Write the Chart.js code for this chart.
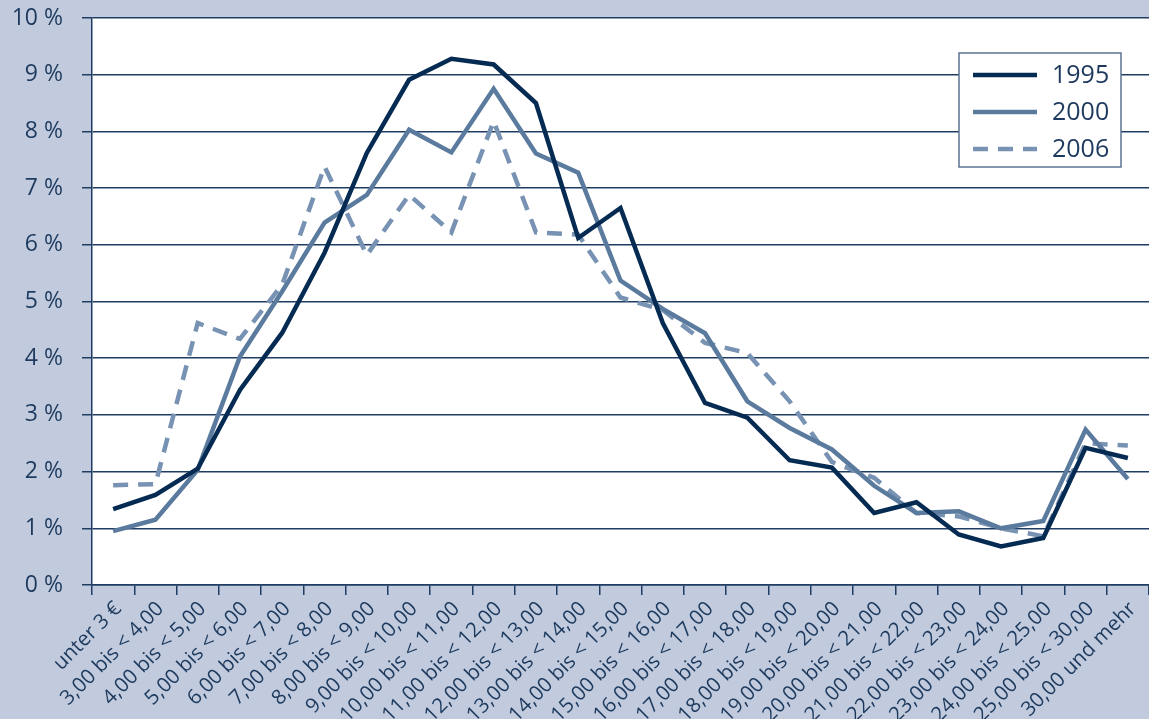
<!DOCTYPE html>
<html lang="de">
<head>
  <meta charset="UTF-8">
  <title>Stundenlöhne 1995, 2000, 2006</title>
  <script src="https://cdn.jsdelivr.net/npm/chart.js@4.4.1/dist/chart.umd.min.js"></script>
  <style>
    html, body {
      margin: 0;
      padding: 0;
      background: #c1cbdd;
    }
    #wrap {
      width: 1149px;
      height: 719px;
    }
  </style>
</head>
<body>
<div id="wrap">
  <canvas id="chart" width="1149" height="719"></canvas>
</div>

<script>
  const categories = [
    'unter 3 €', '3,00 bis < 4,00', '4,00 bis < 5,00', '5,00 bis < 6,00', '6,00 bis < 7,00',
    '7,00 bis < 8,00', '8,00 bis < 9,00', '9,00 bis < 10,00', '10,00 bis < 11,00', '11,00 bis < 12,00',
    '12,00 bis < 13,00', '13,00 bis < 14,00', '14,00 bis < 15,00', '15,00 bis < 16,00', '16,00 bis < 17,00',
    '17,00 bis < 18,00', '18,00 bis < 19,00', '19,00 bis < 20,00', '20,00 bis < 21,00', '21,00 bis < 22,00',
    '22,00 bis < 23,00', '23,00 bis < 24,00', '24,00 bis < 25,00', '25,00 bis < 30,00', '30,00 und mehr'
  ];

  const values1995 = [1.34, 1.59, 2.05, 3.44, 4.45, 5.86, 7.62, 8.91, 9.28, 9.18, 8.5, 6.12, 6.65,
                      4.62, 3.21, 2.95, 2.2, 2.07, 1.27, 1.46, 0.89, 0.68, 0.83, 2.42, 2.24];
  const values2000 = [0.95, 1.15, 2.03, 4.03, 5.18, 6.39, 6.88, 8.03, 7.63, 8.75, 7.61, 7.27, 5.37,
                      4.87, 4.44, 3.24, 2.77, 2.39, 1.75, 1.27, 1.3, 1.0, 1.13, 2.74, 1.87];
  const values2006 = [1.76, 1.78, 4.62, 4.34, 5.3, 7.38, 5.82, 6.88, 6.22, 8.18, 6.22, 6.18, 5.07,
                      4.85, 4.27, 4.09, 3.24, 2.17, 1.89, 1.27, 1.21, 1.0, 0.86, 2.5, 2.46];

  const yTicks = [0, 1, 2, 3, 4, 5, 6, 7, 8, 9, 10];

  const textColor = '#1d3a5e';
  const gridColor = '#1f3d63';
  const fontName = "'Open Sans', 'Noto Sans', sans-serif";

  // white plot area
  const plotBackground = {
    id: 'plotBackground',
    beforeDraw(chart) {
      const {ctx, chartArea} = chart;
      ctx.save();
      ctx.fillStyle = '#ffffff';
      ctx.fillRect(chartArea.left, chartArea.top, chartArea.right - chartArea.left, chartArea.bottom - chartArea.top);
      ctx.restore();
    }
  };

  // legend box inside the plot, top right
  const boxLegend = {
    id: 'boxLegend',
    afterDatasetsDraw(chart) {
      const ctx = chart.ctx;
      const x = 959, y = 53, w = 162, h = 114;
      ctx.save();
      ctx.fillStyle = '#ffffff';
      ctx.fillRect(x, y, w, h);
      ctx.strokeStyle = '#5b7391';
      ctx.lineWidth = 1.5;
      ctx.strokeRect(x, y, w, h);
      ctx.font = '25px ' + fontName;
      ctx.textBaseline = 'middle';
      chart.data.datasets.forEach((ds, i) => {
        const ly = y + 22 + i * 37;
        ctx.beginPath();
        ctx.strokeStyle = ds.borderColor;
        ctx.lineWidth = ds.borderWidth;
        ctx.setLineDash(ds.borderDash || []);
        ctx.moveTo(x + 14, ly);
        ctx.lineTo(x + 78, ly);
        ctx.stroke();
        ctx.setLineDash([]);
        ctx.fillStyle = textColor;
        ctx.fillText(ds.label, x + 93, ly + 1);
      });
      ctx.restore();
    }
  };

  new Chart(document.getElementById('chart'), {
    type: 'line',
    data: {
      labels: categories,
      datasets: [
        {label: '1995', data: values1995, borderColor: '#062b52', borderWidth: 4.5},
        {label: '2000', data: values2000, borderColor: '#5b7b9e', borderWidth: 4.5},
        {label: '2006', data: values2006, borderColor: '#7892b3', borderWidth: 4.5, borderDash: [15, 10]}
      ]
    },
    options: {
      responsive: false,
      animation: false,
      events: [],
      layout: {padding: 0},
      elements: {
        point: {radius: 0},
        line: {tension: 0, fill: false, borderCapStyle: 'butt', borderJoinStyle: 'miter'}
      },
      plugins: {
        legend: {display: false},
        tooltip: {enabled: false}
      },
      scales: {
        x: {
          offset: true,
          grid: {
            offset: true,
            drawOnChartArea: false,
            drawTicks: true,
            tickLength: 10,
            color: gridColor,
            lineWidth: 1.5
          },
          border: {display: true, color: gridColor, width: 1.5},
          ticks: {
            autoSkip: false,
            minRotation: 45,
            maxRotation: 45,
            padding: 2,
            labelOffset: 5,
            color: textColor,
            font: {family: fontName, size: 20.5}
          },
          afterFit(scale) {
            scale.height = 134;
          }
        },
        y: {
          min: 0,
          max: 10,
          afterBuildTicks(scale) {
            scale.ticks = yTicks.map(v => ({value: v}));
          },
          grid: {
            drawTicks: true,
            tickLength: 10,
            color: gridColor,
            lineWidth: 1.5
          },
          border: {display: true, color: gridColor, width: 1.5},
          ticks: {
            padding: 19,
            color: textColor,
            font: {family: fontName, size: 23},
            callback: v => v + ' %'
          },
          afterFit(scale) {
            scale.width = 92;
            // keep the plot top at 18px, the label padding would push it down
            scale.paddingTop = 18;
            scale.paddingBottom = 0;
          }
        }
      }
    },
    plugins: [plotBackground, boxLegend]
  });
</script>
</body>
</html>
